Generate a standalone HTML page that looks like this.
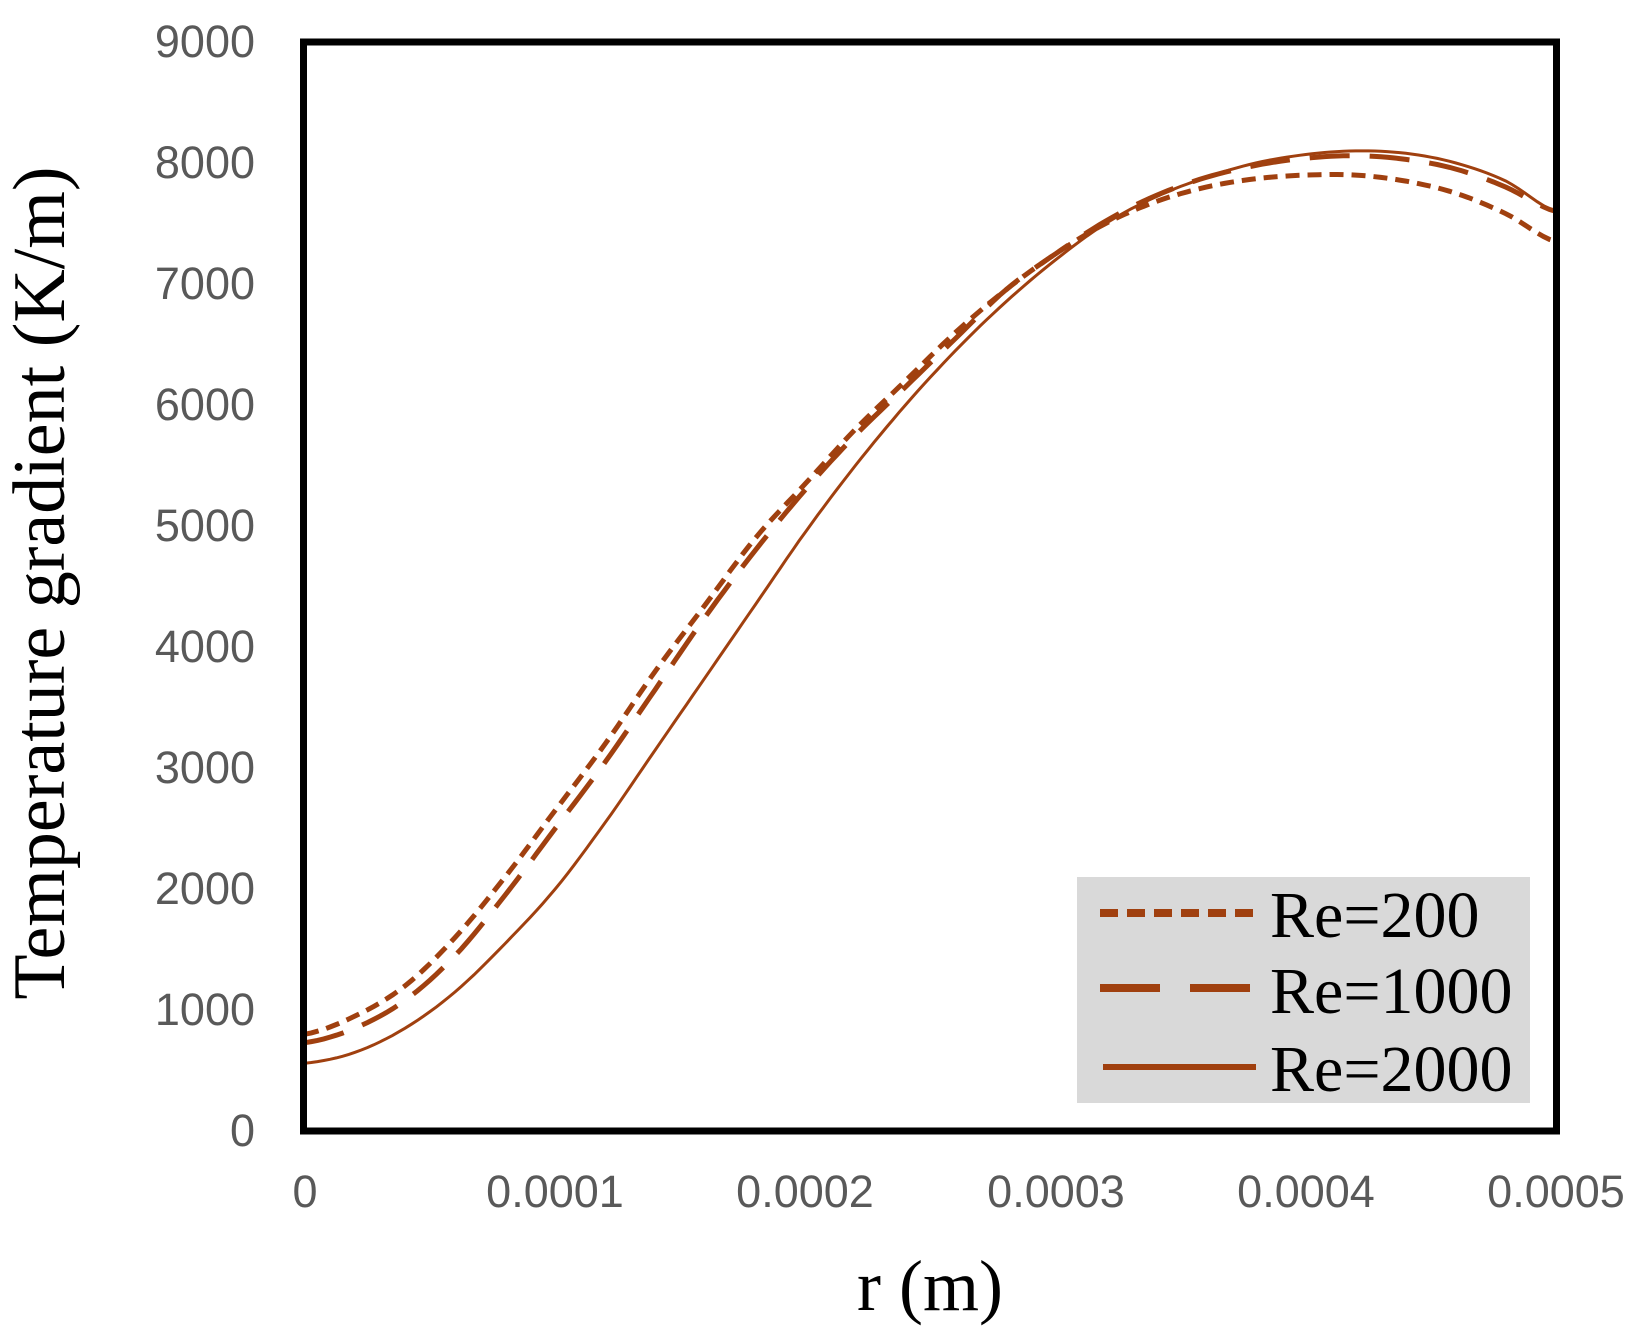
<!DOCTYPE html>
<html><head><meta charset="utf-8"><style>
html,body{margin:0;padding:0;background:#fff;}
svg{display:block;}
</style></head><body>
<svg id="s" width="1644" height="1337" xmlns="http://www.w3.org/2000/svg">
<rect width="1644" height="1337" fill="#fff"/>
<g font-family="'Liberation Sans', sans-serif" font-size="45" fill="#595959" text-anchor="end">
<text x="255" y="1146">0</text>
<text x="255" y="1025">1000</text>
<text x="255" y="904">2000</text>
<text x="255" y="783">3000</text>
<text x="255" y="662">4000</text>
<text x="255" y="541">5000</text>
<text x="255" y="420">6000</text>
<text x="255" y="299">7000</text>
<text x="255" y="178">8000</text>
<text x="255" y="57">9000</text>
</g>
<g font-family="'Liberation Sans', sans-serif" font-size="45" fill="#595959" text-anchor="middle">
<text x="305" y="1207">0</text>
<text x="555" y="1207">0.0001</text>
<text x="805" y="1207">0.0002</text>
<text x="1056" y="1207">0.0003</text>
<text x="1306" y="1207">0.0004</text>
<text x="1556" y="1207">0.0005</text>
</g>
<text x="930" y="1310" font-family="'Liberation Serif', serif" font-size="72" text-anchor="middle" fill="#000">r (m)</text>
<text transform="translate(64,583) rotate(-90)" font-family="'Liberation Serif', serif" font-size="74" text-anchor="middle" fill="#000">Temperature gradient (K/m)</text>
<g id="curves" fill="none" stroke="#A0400F"></g>
<rect x="303.5" y="42" width="1253" height="1089" fill="none" stroke="#000" stroke-width="7"/>
<rect x="1077" y="877" width="453" height="226" fill="#d9d9d9"/>
<line x1="1100" y1="913" x2="1258" y2="913" stroke="#A0400F" stroke-width="8" stroke-dasharray="18,9"/>
<line x1="1100" y1="988" x2="1258" y2="988" stroke="#A0400F" stroke-width="8" stroke-dasharray="60,30"/>
<line x1="1103" y1="1067" x2="1256" y2="1067" stroke="#A0400F" stroke-width="6"/>
<g font-family="'Liberation Serif', serif" font-size="66" fill="#000">
<text x="1270" y="937">Re=200</text>
<text x="1270" y="1013">Re=1000</text>
<text x="1270" y="1091">Re=2000</text>
</g>
</svg>
<script>
var d={
a:[800,950,1200,1600,2100,2650,3200,3800,4350,4900,5350,5800,6200,6600,6950,7250,7500,7680,7800,7870,7900,7900,7850,7750,7580,7350],
b:[730,850,1080,1450,1950,2500,3050,3650,4250,4800,5300,5750,6150,6550,6950,7250,7520,7730,7880,7980,8040,8060,8030,7950,7800,7600],
c:[560,650,850,1150,1550,2000,2550,3150,3750,4350,4950,5500,6000,6450,6850,7200,7500,7720,7880,8000,8070,8100,8080,8000,7850,7600]};
function path(v){var s='';var n=v.length;
for(var k=0;k<=(n-1)*8;k++){var t=k/8;var i=Math.floor(t);if(i>=n-1)i=n-2;var u=t-i;
var p0=v[Math.max(i-1,0)],p1=v[i],p2=v[i+1],p3=v[Math.min(i+2,n-1)];
var y=0.5*((2*p1)+(-p0+p2)*u+(2*p0-5*p1+4*p2-p3)*u*u+(-p0+3*p1-3*p2+p3)*u*u*u);
var X=305+t*2/50*1251;var Y=1131-y*0.121;s+=(k?'L':'M')+X.toFixed(1)+','+Y.toFixed(1);}return s;}
var g=document.getElementById('curves');
function add(v,w,da){var p=document.createElementNS('http://www.w3.org/2000/svg','path');p.setAttribute('d',path(v));p.setAttribute('stroke-width',w);if(da)p.setAttribute('stroke-dasharray',da);g.appendChild(p);}
add(d.c,3,null);add(d.b,5,'40,20');add(d.a,5,'14,8');
</script>
</body></html>
